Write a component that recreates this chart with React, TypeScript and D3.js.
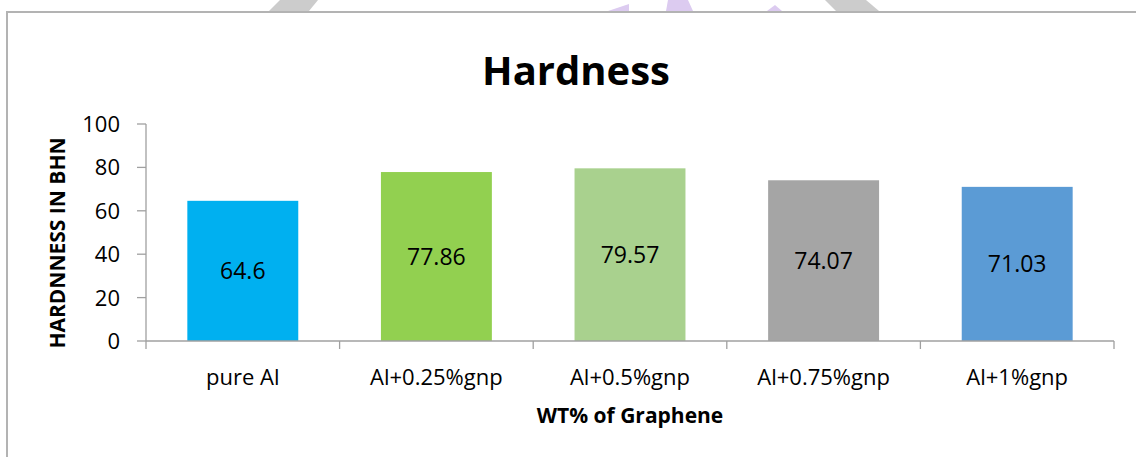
import React from "react";
import * as d3 from "d3";

const categories = ["pure Al", "Al+0.25%gnp", "Al+0.5%gnp", "Al+0.75%gnp", "Al+1%gnp"];
const hardness = [64.6, 77.86, 79.57, 74.07, 71.03];
const barColors = ["#00B0F0", "#92D050", "#A9D18E", "#A5A5A5", "#5B9BD5"];
const yTicks = [0, 20, 40, 60, 80, 100];

const FONT = "'Open Sans', 'Noto Sans', sans-serif";

export default function App() {
  const W = 1136;
  const H = 457;
  const left = 146;
  const right = 1114;
  const top = 124;
  const bottom = 341;

  const x = d3.scaleBand<string>().domain(categories).range([left, right]).paddingInner(0.427).paddingOuter(0.2135);
  const y = d3.scaleLinear().domain([0, 100]).range([bottom, top]);
  const step = (right - left) / categories.length;

  return (
    <svg width={W} height={H} style={{ position: "absolute", left: 0, top: 0, background: "#fff" }} fontFamily={FONT}>
      {/* watermark fragments */}
      <polygon points="269,11 309,11 318,0 280,0" fill="#cccccc" />
      <polygon points="608,11 629,11 629,4" fill="#dccbf0" />
      <polygon points="666,11 693,11 688,0 668,0" fill="#dccbf0" />
      <polygon points="767,11 782,11 775,5" fill="#dccbf0" />
      <polygon points="836,11 879,11 866,0 825,0" fill="#cccccc" />

      {/* chart border */}
      <path d={`M7,${H} V12 H${W}`} fill="none" stroke="#b3b3b3" strokeWidth={2} />

      <text x={576} y={85} textAnchor="middle" fontSize={40} fontWeight="bold" fill="#000">Hardness</text>

      {/* y axis */}
      <line x1={left} x2={left} y1={top} y2={bottom} stroke="#a0a0a0" strokeWidth={1.3} />
      {yTicks.map((t) => (
        <g key={t}>
          <line x1={left - 9} x2={left} y1={y(t)} y2={y(t)} stroke="#a0a0a0" strokeWidth={1.3} />
          <text x={120} y={y(t)} dy="0.36em" textAnchor="end" fontSize={22} fill="#000">{t}</text>
        </g>
      ))}
      <text transform={`translate(65,${(133 + 353) / 2}) rotate(-90)`} textAnchor="middle" fontSize={21} fontWeight="bold" fill="#000">HARDNNESS IN BHN</text>

      {/* bars */}
      {categories.map((c, i) => (
        <g key={c}>
          <rect x={x(c)} y={y(hardness[i])} width={x.bandwidth()} height={bottom - y(hardness[i])} fill={barColors[i]} />
          <text x={(x(c) as number) + x.bandwidth() / 2} y={(y(hardness[i]) + bottom) / 2} dy="0.36em" textAnchor="middle" fontSize={23} fill="#000">{hardness[i]}</text>
          <text x={(x(c) as number) + x.bandwidth() / 2} y={385} textAnchor="middle" fontSize={22} fill="#000">{c}</text>
        </g>
      ))}

      {/* x axis */}
      <line x1={left} x2={right} y1={bottom} y2={bottom} stroke="#a0a0a0" strokeWidth={1.3} />
      {d3.range(categories.length + 1).map((i) => (
        <line key={i} x1={left + i * step} x2={left + i * step} y1={bottom} y2={bottom + 8} stroke="#a0a0a0" strokeWidth={1.3} />
      ))}
      <text x={(left + right) / 2} y={423} textAnchor="middle" fontSize={21} fontWeight="bold" fill="#000">WT% of Graphene</text>
    </svg>
  );
}
